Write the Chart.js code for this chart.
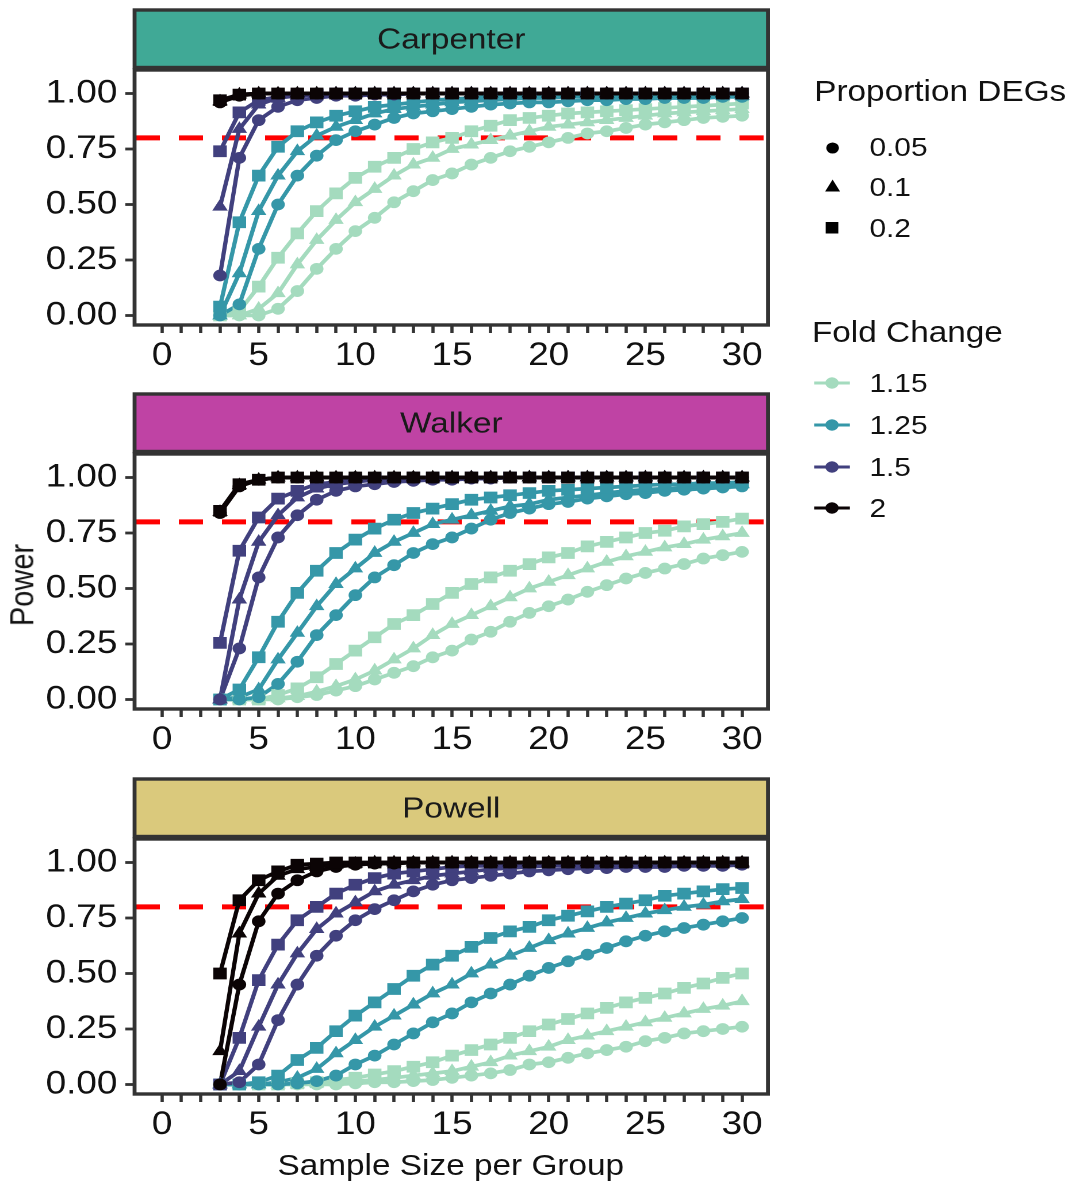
<!DOCTYPE html>
<html>
<head>
<meta charset="utf-8">
<script src="https://cdn.jsdelivr.net/npm/chart.js@4.4.1/dist/chart.umd.min.js"></script>
<style>
  html, body { margin: 0; padding: 0; background: #fff; }
  body { width: 1072px; height: 1184px; overflow: hidden; position: relative;
         font-family: "Liberation Sans", Arial, sans-serif; color: #111; }
  /* the figure is a little wide: draw it narrower and stretch it */
  #stage { position: absolute; left: 0; top: 0; width: 932px; height: 1184px;
           transform: scaleX(1.15); transform-origin: 0 0; }
  .panel { position: absolute; left: 0; width: 680px; height: 384px; }
  .txt { position: absolute; white-space: nowrap; height: 34px; line-height: 34px; }
  .sym { position: absolute; }
</style>
</head>
<body>
<div id="stage">
  <div class="panel" style="top:0px"><canvas id="c0"></canvas></div>
  <div class="panel" style="top:384px"><canvas id="c1"></canvas></div>
  <div class="panel" style="top:769px"><canvas id="c2"></canvas></div>

  <div class="txt" style="left:19px; top:585px; font-size:29px; transform: translate(-50%, -50%) rotate(-90deg);">Power</div>
  <div class="txt" style="left:392px; top:1165px; font-size:29px; transform: translate(-50%, -50%);">Sample Size per Group</div>

  <!-- legend -->
  <div class="txt" style="left:708px; top:74px; font-size:29px;">Proportion DEGs</div>
  <svg class="sym" style="left:717px; top:141px" width="14" height="14"><circle cx="7" cy="7" r="5.5" fill="#000"/></svg>
  <div class="txt" style="left:756px; top:130px; font-size:26px;">0.05</div>
  <svg class="sym" style="left:716px; top:179px" width="16" height="14"><polygon points="8,0.5 14.5,12.5 1.5,12.5" fill="#000"/></svg>
  <div class="txt" style="left:756px; top:170px; font-size:26px;">0.1</div>
  <svg class="sym" style="left:717px; top:221px" width="14" height="14"><rect x="1" y="1" width="11" height="11.5" fill="#000"/></svg>
  <div class="txt" style="left:756px; top:211px; font-size:26px;">0.2</div>

  <div class="txt" style="left:706px; top:315px; font-size:29px;">Fold Change</div>
  <svg class="sym" style="left:707px; top:375px" width="34" height="16"><line x1="1" y1="8" x2="32" y2="8" stroke="#a4dbbe" stroke-width="3"/><circle cx="16.5" cy="8" r="5.8" fill="#a4dbbe"/></svg>
  <div class="txt" style="left:756px; top:366px; font-size:26px;">1.15</div>
  <svg class="sym" style="left:707px; top:417px" width="34" height="16"><line x1="1" y1="8" x2="32" y2="8" stroke="#3597a8" stroke-width="3"/><circle cx="16.5" cy="8" r="5.8" fill="#3597a8"/></svg>
  <div class="txt" style="left:756px; top:408px; font-size:26px;">1.25</div>
  <svg class="sym" style="left:707px; top:459px" width="34" height="16"><line x1="1" y1="8" x2="32" y2="8" stroke="#41407e" stroke-width="3"/><circle cx="16.5" cy="8" r="5.8" fill="#41407e"/></svg>
  <div class="txt" style="left:756px; top:450px; font-size:26px;">1.5</div>
  <svg class="sym" style="left:707px; top:500px" width="34" height="16"><line x1="1" y1="8" x2="32" y2="8" stroke="#0b0405" stroke-width="3"/><circle cx="16.5" cy="8" r="5.8" fill="#0b0405"/></svg>
  <div class="txt" style="left:756px; top:491px; font-size:26px;">2</div>
</div>

<script>
// sample sizes on the x axis
const sampleSizes = [3, 4, 5, 6, 7, 8, 9, 10, 11, 12, 13, 14, 15, 16, 17, 18, 19, 20, 21, 22, 23, 24, 25, 26, 27, 28, 29, 30];
const xTickValues = [0, 1, 2, 3, 4, 5, 6, 7, 8, 9, 10, 11, 12, 13, 14, 15, 16, 17, 18, 19, 20, 21, 22, 23, 24, 25, 26, 27, 28, 29, 30];
const yTickValues = [0, 0.25, 0.5, 0.75, 1];
const studies = ["Carpenter", "Walker", "Powell"];
const foldChanges = ["1.15", "1.25", "1.5", "2"];
const proportions = ["0.05", "0.1", "0.2"];
const thresholdPower = 0.8;

/* -------------------------
   CARPENTER
--------------------------*/
const carpenter_fc115_p005 = [0, 0, 0, 0.03, 0.11, 0.21, 0.30, 0.38, 0.44, 0.51, 0.56, 0.61, 0.64, 0.68, 0.71, 0.74, 0.76, 0.78, 0.80, 0.82, 0.83, 0.845, 0.86, 0.87, 0.88, 0.89, 0.895, 0.90];
const carpenter_fc115_p01 = [0, 0, 0.03, 0.10, 0.23, 0.34, 0.43, 0.51, 0.57, 0.63, 0.68, 0.71, 0.75, 0.77, 0.79, 0.81, 0.83, 0.85, 0.86, 0.87, 0.88, 0.89, 0.90, 0.91, 0.915, 0.92, 0.925, 0.93];
const carpenter_fc115_p02 = [0, 0.02, 0.13, 0.26, 0.37, 0.47, 0.55, 0.62, 0.67, 0.71, 0.75, 0.78, 0.80, 0.83, 0.855, 0.88, 0.89, 0.90, 0.91, 0.915, 0.92, 0.925, 0.93, 0.935, 0.94, 0.945, 0.95, 0.955];
const carpenter_fc125_p005 = [0, 0.05, 0.30, 0.50, 0.63, 0.72, 0.79, 0.83, 0.86, 0.89, 0.91, 0.92, 0.93, 0.94, 0.95, 0.955, 0.96, 0.96, 0.965, 0.97, 0.97, 0.975, 0.975, 0.98, 0.98, 0.98, 0.985, 0.985];
const carpenter_fc125_p01 = [0, 0.19, 0.47, 0.63, 0.74, 0.81, 0.85, 0.88, 0.91, 0.93, 0.94, 0.95, 0.96, 0.965, 0.97, 0.975, 0.98, 0.98, 0.985, 0.985, 0.985, 0.99, 0.99, 0.99, 0.99, 0.99, 0.99, 0.99];
const carpenter_fc125_p02 = [0.04, 0.42, 0.63, 0.76, 0.83, 0.87, 0.90, 0.92, 0.94, 0.95, 0.96, 0.97, 0.975, 0.98, 0.985, 0.985, 0.99, 0.99, 0.99, 0.99, 0.995, 0.995, 0.995, 0.995, 0.995, 0.995, 0.995, 0.995];
const carpenter_fc15_p005 = [0.18, 0.71, 0.88, 0.94, 0.97, 0.98, 0.99, 0.99, 0.995, 0.995, 1, 1, 1, 1, 1, 1, 1, 1, 1, 1, 1, 1, 1, 1, 1, 1, 1, 1];
const carpenter_fc15_p01 = [0.49, 0.84, 0.95, 0.98, 0.99, 0.995, 1, 1, 1, 1, 1, 1, 1, 1, 1, 1, 1, 1, 1, 1, 1, 1, 1, 1, 1, 1, 1, 1];
const carpenter_fc15_p02 = [0.74, 0.915, 0.97, 0.985, 0.99, 0.995, 1, 1, 1, 1, 1, 1, 1, 1, 1, 1, 1, 1, 1, 1, 1, 1, 1, 1, 1, 1, 1, 1];
const carpenter_fc2_p005 = [0.96, 0.99, 1, 1, 1, 1, 1, 1, 1, 1, 1, 1, 1, 1, 1, 1, 1, 1, 1, 1, 1, 1, 1, 1, 1, 1, 1, 1];
const carpenter_fc2_p01 = [0.965, 0.995, 1, 1, 1, 1, 1, 1, 1, 1, 1, 1, 1, 1, 1, 1, 1, 1, 1, 1, 1, 1, 1, 1, 1, 1, 1, 1];
const carpenter_fc2_p02 = [0.97, 0.995, 1, 1, 1, 1, 1, 1, 1, 1, 1, 1, 1, 1, 1, 1, 1, 1, 1, 1, 1, 1, 1, 1, 1, 1, 1, 1];

/* -------------------------
   WALKER
--------------------------*/
const walker_fc115_p005 = [0, 0, 0, 0, 0.01, 0.02, 0.04, 0.06, 0.09, 0.12, 0.15, 0.19, 0.22, 0.27, 0.305, 0.35, 0.39, 0.42, 0.45, 0.485, 0.515, 0.545, 0.57, 0.59, 0.61, 0.635, 0.65, 0.665];
const walker_fc115_p01 = [0, 0, 0, 0.005, 0.015, 0.035, 0.06, 0.09, 0.13, 0.18, 0.23, 0.29, 0.34, 0.38, 0.42, 0.46, 0.50, 0.53, 0.56, 0.59, 0.62, 0.645, 0.665, 0.685, 0.70, 0.72, 0.735, 0.75];
const walker_fc115_p02 = [0, 0, 0, 0.02, 0.05, 0.10, 0.16, 0.22, 0.28, 0.34, 0.38, 0.43, 0.48, 0.52, 0.55, 0.58, 0.61, 0.64, 0.66, 0.69, 0.71, 0.73, 0.75, 0.76, 0.78, 0.79, 0.80, 0.815];
const walker_fc125_p005 = [0, 0, 0.01, 0.07, 0.17, 0.29, 0.38, 0.47, 0.55, 0.605, 0.66, 0.70, 0.73, 0.77, 0.81, 0.84, 0.86, 0.88, 0.89, 0.905, 0.915, 0.925, 0.93, 0.94, 0.945, 0.95, 0.955, 0.96];
const walker_fc125_p01 = [0, 0.01, 0.045, 0.18, 0.30, 0.42, 0.52, 0.59, 0.66, 0.71, 0.75, 0.79, 0.81, 0.83, 0.85, 0.87, 0.88, 0.90, 0.91, 0.92, 0.93, 0.94, 0.945, 0.95, 0.955, 0.96, 0.965, 0.97];
const walker_fc125_p02 = [0, 0.045, 0.19, 0.35, 0.48, 0.58, 0.66, 0.72, 0.77, 0.81, 0.84, 0.86, 0.88, 0.90, 0.91, 0.92, 0.93, 0.94, 0.945, 0.95, 0.955, 0.96, 0.965, 0.97, 0.97, 0.975, 0.975, 0.98];
const walker_fc15_p005 = [0, 0.23, 0.55, 0.73, 0.83, 0.90, 0.94, 0.96, 0.97, 0.98, 0.985, 0.99, 0.99, 0.995, 0.995, 1, 1, 1, 1, 1, 1, 1, 1, 1, 1, 1, 1, 1];
const walker_fc15_p01 = [0, 0.45, 0.71, 0.83, 0.91, 0.95, 0.97, 0.98, 0.99, 0.99, 0.995, 0.995, 1, 1, 1, 1, 1, 1, 1, 1, 1, 1, 1, 1, 1, 1, 1, 1];
const walker_fc15_p02 = [0.255, 0.67, 0.82, 0.905, 0.94, 0.97, 0.98, 0.99, 0.995, 0.995, 1, 1, 1, 1, 1, 1, 1, 1, 1, 1, 1, 1, 1, 1, 1, 1, 1, 1];
const walker_fc2_p005 = [0.84, 0.96, 0.99, 1, 1, 1, 1, 1, 1, 1, 1, 1, 1, 1, 1, 1, 1, 1, 1, 1, 1, 1, 1, 1, 1, 1, 1, 1];
const walker_fc2_p01 = [0.845, 0.965, 0.99, 1, 1, 1, 1, 1, 1, 1, 1, 1, 1, 1, 1, 1, 1, 1, 1, 1, 1, 1, 1, 1, 1, 1, 1, 1];
const walker_fc2_p02 = [0.85, 0.97, 0.99, 1, 1, 1, 1, 1, 1, 1, 1, 1, 1, 1, 1, 1, 1, 1, 1, 1, 1, 1, 1, 1, 1, 1, 1, 1];

/* -------------------------
   POWELL
--------------------------*/
const powell_fc115_p005 = [0, 0, 0, 0, 0, 0, 0, 0.005, 0.01, 0.01, 0.015, 0.02, 0.03, 0.04, 0.05, 0.065, 0.09, 0.10, 0.12, 0.14, 0.155, 0.17, 0.195, 0.21, 0.23, 0.24, 0.25, 0.26];
const powell_fc115_p01 = [0, 0, 0, 0, 0, 0.005, 0.01, 0.015, 0.02, 0.03, 0.04, 0.05, 0.06, 0.08, 0.10, 0.13, 0.15, 0.17, 0.20, 0.22, 0.24, 0.26, 0.28, 0.30, 0.32, 0.34, 0.355, 0.375];
const powell_fc115_p02 = [0, 0, 0, 0, 0.005, 0.01, 0.02, 0.03, 0.045, 0.06, 0.08, 0.10, 0.13, 0.155, 0.18, 0.21, 0.24, 0.27, 0.295, 0.32, 0.345, 0.37, 0.39, 0.41, 0.435, 0.455, 0.48, 0.50];
const powell_fc125_p005 = [0, 0, 0, 0, 0.005, 0.015, 0.04, 0.09, 0.13, 0.18, 0.23, 0.28, 0.32, 0.37, 0.41, 0.45, 0.49, 0.525, 0.555, 0.585, 0.615, 0.645, 0.67, 0.69, 0.705, 0.72, 0.735, 0.75];
const powell_fc125_p01 = [0, 0, 0, 0.01, 0.03, 0.07, 0.14, 0.20, 0.26, 0.31, 0.36, 0.41, 0.45, 0.50, 0.54, 0.58, 0.615, 0.65, 0.68, 0.705, 0.73, 0.75, 0.77, 0.785, 0.80, 0.81, 0.825, 0.835];
const powell_fc125_p02 = [0, 0, 0.01, 0.04, 0.11, 0.165, 0.24, 0.31, 0.37, 0.43, 0.49, 0.54, 0.58, 0.62, 0.66, 0.69, 0.71, 0.74, 0.76, 0.78, 0.80, 0.815, 0.83, 0.85, 0.86, 0.87, 0.88, 0.885];
const powell_fc15_p005 = [0, 0.01, 0.09, 0.29, 0.45, 0.58, 0.67, 0.74, 0.79, 0.83, 0.87, 0.90, 0.92, 0.93, 0.94, 0.95, 0.96, 0.965, 0.97, 0.975, 0.975, 0.98, 0.98, 0.98, 0.985, 0.985, 0.985, 0.99];
const powell_fc15_p01 = [0, 0.06, 0.26, 0.45, 0.59, 0.70, 0.77, 0.82, 0.87, 0.90, 0.92, 0.94, 0.95, 0.96, 0.97, 0.975, 0.98, 0.985, 0.985, 0.99, 0.99, 0.99, 0.99, 0.995, 0.995, 0.995, 0.995, 0.995];
const powell_fc15_p02 = [0, 0.21, 0.47, 0.63, 0.74, 0.80, 0.86, 0.90, 0.93, 0.95, 0.96, 0.97, 0.98, 0.985, 0.985, 0.99, 0.99, 0.99, 0.995, 0.995, 0.995, 0.995, 0.995, 1, 1, 1, 1, 1];
const powell_fc2_p005 = [0, 0.45, 0.735, 0.86, 0.92, 0.96, 0.98, 0.99, 0.995, 0.995, 1, 1, 1, 1, 1, 1, 1, 1, 1, 1, 1, 1, 1, 1, 1, 1, 1, 1];
const powell_fc2_p01 = [0.15, 0.68, 0.86, 0.94, 0.97, 0.98, 0.99, 0.995, 1, 1, 1, 1, 1, 1, 1, 1, 1, 1, 1, 1, 1, 1, 1, 1, 1, 1, 1, 1];
const powell_fc2_p02 = [0.50, 0.83, 0.92, 0.96, 0.99, 0.995, 1, 1, 1, 1, 1, 1, 1, 1, 1, 1, 1, 1, 1, 1, 1, 1, 1, 1, 1, 1, 1, 1];

// study -> fold change -> [p0.05, p0.1, p0.2]
const powerTable = {
    Carpenter: {
        "1.15": [carpenter_fc115_p005, carpenter_fc115_p01, carpenter_fc115_p02],
        "1.25": [carpenter_fc125_p005, carpenter_fc125_p01, carpenter_fc125_p02],
        "1.5":  [carpenter_fc15_p005, carpenter_fc15_p01, carpenter_fc15_p02],
        "2":    [carpenter_fc2_p005, carpenter_fc2_p01, carpenter_fc2_p02]
    },
    Walker: {
        "1.15": [walker_fc115_p005, walker_fc115_p01, walker_fc115_p02],
        "1.25": [walker_fc125_p005, walker_fc125_p01, walker_fc125_p02],
        "1.5":  [walker_fc15_p005, walker_fc15_p01, walker_fc15_p02],
        "2":    [walker_fc2_p005, walker_fc2_p01, walker_fc2_p02]
    },
    Powell: {
        "1.15": [powell_fc115_p005, powell_fc115_p01, powell_fc115_p02],
        "1.25": [powell_fc125_p005, powell_fc125_p01, powell_fc125_p02],
        "1.5":  [powell_fc15_p005, powell_fc15_p01, powell_fc15_p02],
        "2":    [powell_fc2_p005, powell_fc2_p01, powell_fc2_p02]
    }
};

/* -------------------------
   STYLES
--------------------------*/
const fcColors = { "1.15": "#a4dbbe", "1.25": "#3597a8", "1.5": "#41407e", "2": "#0b0405" };
const propShapes = { "0.05": "circle", "0.1": "triangle", "0.2": "rect" };
const propRadius = { "0.05": 5.9, "0.1": 7.8, "0.2": 8.3 };
const stripColors = { Carpenter: "#40a996", Walker: "#bf43a4", Powell: "#dac97c" };

Chart.defaults.font.family = '"Liberation Sans", Arial, sans-serif';

// red threshold, panel box and facet strip
const facetDecor = {
    id: "facetDecor",
    beforeDatasetsDraw(chart) {
        const { ctx, chartArea: a, scales: { y } } = chart;
        const yy = y.getPixelForValue(thresholdPower);
        ctx.save();
        ctx.strokeStyle = "#ff0000";
        ctx.lineWidth = 5;
        ctx.setLineDash([21, 16.5]);
        ctx.beginPath();
        ctx.moveTo(a.left + 1, yy);
        ctx.lineTo(a.right, yy);
        ctx.stroke();
        ctx.restore();
    },
    afterDraw(chart, args, opts) {
        const { ctx, chartArea: a } = chart;
        ctx.save();
        ctx.strokeStyle = "#333333";
        ctx.lineWidth = 3.4;
        ctx.strokeRect(a.left, a.top, a.right - a.left, a.bottom - a.top);

        const stripTop = 10, stripBottom = a.top - 2.5;
        ctx.fillStyle = opts.color;
        ctx.fillRect(a.left, stripTop, a.right - a.left, stripBottom - stripTop);
        ctx.strokeRect(a.left, stripTop, a.right - a.left, stripBottom - stripTop);

        ctx.fillStyle = "#1a1a1a";
        ctx.font = '29px "Liberation Sans", Arial, sans-serif';
        ctx.textAlign = "center";
        ctx.textBaseline = "middle";
        ctx.fillText(opts.label, (a.left + a.right) / 2, (stripTop + stripBottom) / 2 + 1.5);
        ctx.restore();
    }
};

function buildDatasets(study) {
    const points = [];
    const lines = [];
    // first dataset is drawn last, so the strongest effect goes first
    foldChanges.slice().reverse().forEach(fc => {
        proportions.slice().reverse().forEach(p => {
            const values = powerTable[study][fc][proportions.indexOf(p)];
            const data = sampleSizes.map((n, i) => ({ x: n, y: values[i] }));
            points.push({
                data: data,
                showLine: false,
                pointStyle: propShapes[p],
                pointRadius: propRadius[p],
                pointBorderWidth: 0,
                backgroundColor: fcColors[fc],
                borderColor: fcColors[fc]
            });
            lines.push({
                data: data,
                pointRadius: 0,
                borderColor: fcColors[fc],
                borderWidth: 3.7,
                tension: 0
            });
        });
    });
    return points.concat(lines);
}

function drawFacet(canvasId, study) {
    const axisTicks = {
        drawOnChartArea: false,
        drawTicks: true,
        tickLength: 8,
        tickWidth: 2.8,
        tickColor: "#333333"
    };
    return new Chart(document.getElementById(canvasId), {
        type: "line",
        data: { datasets: buildDatasets(study) },
        plugins: [facetDecor],
        options: {
            responsive: true,
            maintainAspectRatio: false,
            animation: false,
            devicePixelRatio: 2,
            events: [],
            layout: { padding: { left: 0, top: 70, right: 12.2, bottom: 9 } },
            plugins: {
                legend: { display: false },
                tooltip: { enabled: false },
                facetDecor: { label: study, color: stripColors[study] }
            },
            scales: {
                x: {
                    type: "linear",
                    min: -1.42,
                    max: 31.34,
                    afterBuildTicks: s => { s.ticks = xTickValues.map(v => ({ value: v })); },
                    afterFit: s => { s.height = 50; },
                    grid: axisTicks,
                    border: { display: false },
                    ticks: {
                        autoSkip: false,
                        maxRotation: 0,
                        padding: 4,
                        color: "#111",
                        font: { size: 32 },
                        callback: v => (v % 5 === 0 ? String(v) : "")
                    }
                },
                y: {
                    type: "linear",
                    min: -0.043,
                    max: 1.106,
                    afterBuildTicks: s => { s.ticks = yTickValues.map(v => ({ value: v })); },
                    afterFit: s => { s.width = 117; },
                    grid: axisTicks,
                    border: { display: false },
                    ticks: {
                        padding: 7,
                        color: "#111",
                        font: { size: 32 },
                        callback: v => v.toFixed(2)
                    }
                }
            }
        }
    });
}

studies.forEach((study, i) => drawFacet("c" + i, study));
</script>
</body>
</html>
